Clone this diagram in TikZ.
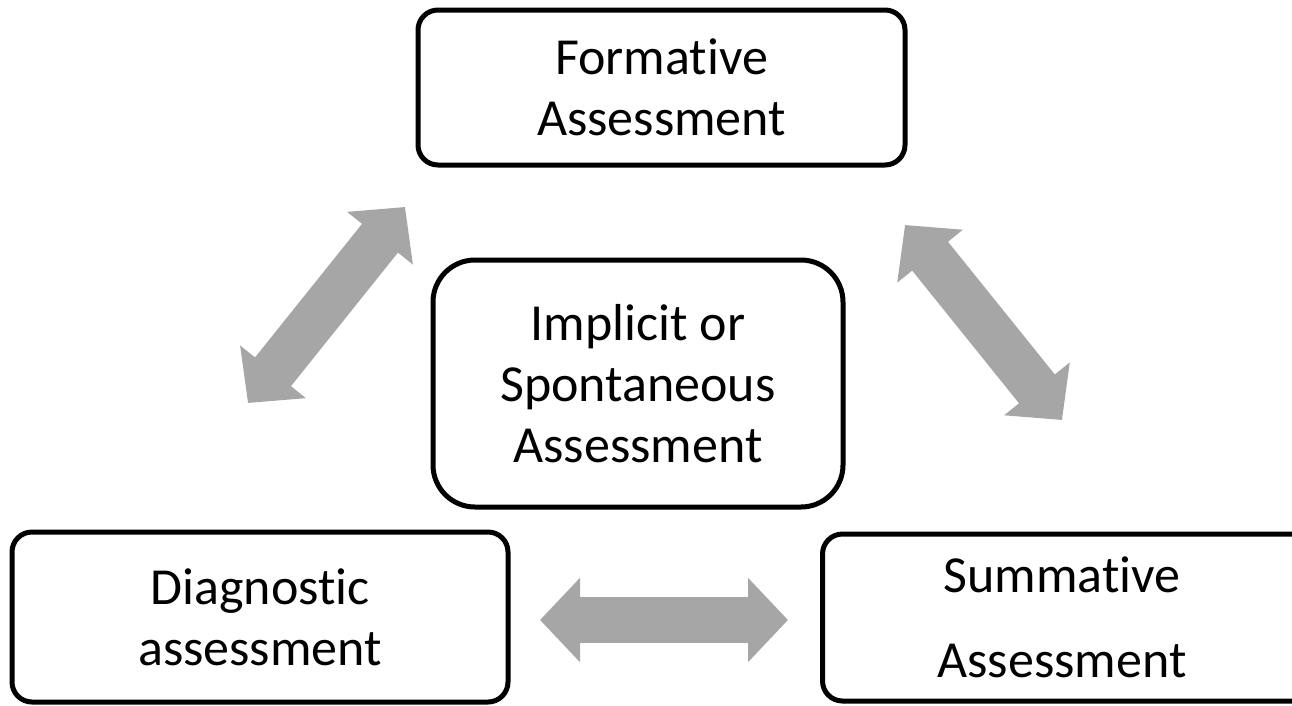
\documentclass[tikz,border=0pt]{standalone}
\usepackage{fontspec}
\setmainfont[Ligatures=NoCommon]{Carlito}
\usepackage{tikz}
\usetikzlibrary{arrows.meta,positioning}
\definecolor{arrowgrey}{HTML}{A6A6A6}

\begin{document}
\begin{tikzpicture}[x=1pt, y=-1pt,
    every node/.style={font=\fontsize{52}{61}\selectfont, align=center, inner sep=0pt},
    box/.style={draw, line width=5pt, rounded corners=20pt},
    centrebox/.style={box, rounded corners=42pt},
    twoway/.style={draw=arrowgrey, line width=46pt,
        {Triangle[length=40pt,width=82pt]}-{Triangle[length=40pt,width=82pt]}}
    ]
\useasboundingbox (0,0) rectangle (1292,705);
\clip (0,0) rectangle (1292,705);
% \draw[help lines, step=100] (0,0) grid (1292,705);
\node[box, minimum width=487pt, minimum height=155pt] (form) at (661.5,87.5) {Formative\\Assessment};
\node[centrebox, minimum width=410pt, minimum height=247pt] (impl) at (638,383.5) {Implicit or\\Spontaneous\\Assessment};
\node[box, minimum width=496pt, minimum height=170pt] (diag) at (260,617) {Diagnostic\\assessment};
% summative box runs off the right edge
\node[box, minimum width=600pt, minimum height=167pt, anchor=west] (summ) at (820,617.5) {};
\node (summtext) at (1062,617.5) {Summative\\[24pt]Assessment};

% arrow ends
\coordinate (dl) at (248,403);
\coordinate (fl) at (405,207);
\coordinate (fr) at (905,225);
\coordinate (sr) at (1062,420);
\coordinate (db) at (540,620);
\coordinate (sb) at (788,620);

\draw[twoway] (dl) -- (fl);
\draw[twoway] (fr) -- (sr);
\draw[twoway] (db) -- (sb);
\end{tikzpicture}
\end{document}
